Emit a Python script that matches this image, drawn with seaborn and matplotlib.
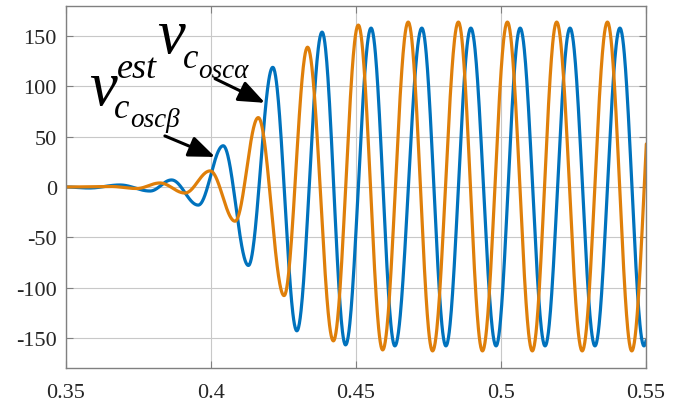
import numpy as np
import pandas as pd
import matplotlib
matplotlib.use("Agg")
import matplotlib.pyplot as plt
import seaborn as sns

# Extrema (time [s], value)
alpha_t = [0.350, 0.358, 0.3686, 0.3790, 0.3864, 0.3956, 0.4042, 0.4129, 0.4213, 0.4296,
           0.4383, 0.4464, 0.4552, 0.4634, 0.4727, 0.4810, 0.4896, 0.4983, 0.5066, 0.5152,
           0.5238, 0.5324, 0.5410, 0.5493, 0.5580]
alpha_v = [0, -1, 2, -4, 7, -18, 41, -78, 119, -143,
           154, -157, 158, -158, 158, -158, 158, -158, 158, -158,
           158, -158, 158, -158, 158]
beta_t = [0.350, 0.3655, 0.3744, 0.3824, 0.3910, 0.3997, 0.4083, 0.4163, 0.4252, 0.4333,
          0.4422, 0.4508, 0.4592, 0.4680, 0.4764, 0.4853, 0.4936, 0.5022, 0.5108, 0.5192,
          0.5280, 0.5367, 0.5451, 0.5537]
beta_v = [0, 0.5, -1.5, 4, -6, 16, -34, 69, -108, 139,
          -153, 161, -162, 164, -163, 164, -163, 164, -163, 164,
          -163, 164, -163, 164]

x_ticks = [0.35, 0.4, 0.45, 0.5, 0.55]
x_labels = ["0.35", "0.4", "0.45", "0.5", "0.55"]
y_ticks = [-150, -100, -50, 0, 50, 100, 150]
y_labels = ["-150", "-100", "-50", "0", "50", "100", "150"]


def wave(ts, vs, n=60):
    """Smooth half-cosine segments between successive read extrema."""
    xs, ys = [], []
    for i in range(len(ts) - 1):
        s = np.linspace(0, 1, n, endpoint=False)
        xs.append(ts[i] + (ts[i + 1] - ts[i]) * s)
        ys.append(vs[i] + (vs[i + 1] - vs[i]) * (1 - np.cos(np.pi * s)) / 2)
    xs.append([ts[-1]]); ys.append([vs[-1]])
    return np.concatenate(xs), np.concatenate(ys)


ta, va = wave(alpha_t, alpha_v)
tb, vb = wave(beta_t, beta_v)
df_a = pd.DataFrame({"t": ta, "v": va})
df_b = pd.DataFrame({"t": tb, "v": vb})

sns.set_theme(style="white")
plt.rcParams["font.family"] = ["Liberation Serif", "DejaVu Serif"]

fig = plt.figure(figsize=(6.91, 4.02), dpi=100)
ax = fig.add_axes([66 / 691, 1 - 369 / 402, 580 / 691, 362 / 402])

blue = "#0072BD"
orange = "#DF7F0A"
sns.lineplot(data=df_a, x="t", y="v", ax=ax, color=blue, lw=2.3, sort=False, estimator=None)
sns.lineplot(data=df_b, x="t", y="v", ax=ax, color=orange, lw=2.3, sort=False, estimator=None)

ax.set_xlim(0.35, 0.55)
ax.set_ylim(-180, 180)
ax.set_xticks(x_ticks)
ax.set_xticklabels(x_labels)
ax.set_yticks(y_ticks)
ax.set_yticklabels(y_labels)
ax.set_xlabel("")
ax.set_ylabel("")
ax.grid(True, color="#c8c8c8", lw=0.8)
ax.set_axisbelow(True)
for s in ax.spines.values():
    s.set_color("#808080")
    s.set_linewidth(1.0)
ax.tick_params(axis="both", which="both", direction="in", length=5, width=0.8,
               color="#808080", labelsize=16, labelcolor="#262626",
               top=True, right=True, left=True, bottom=True)
ax.tick_params(axis="x", pad=11)
ax.tick_params(axis="y", pad=6.5)


def ftext(x, y, s, size):
    fig.text(x / 691, 1 - y / 402, s, fontsize=size, style="italic",
             family=["Liberation Serif", "DejaVu Serif"], ha="left", va="baseline",
             color="black")


# beta label
ftext(89, 105, "v", 45)
ftext(117, 78, "est", 26)
ftext(114, 118, "c", 25)
ftext(130, 127, "oscβ", 19.5)
# alpha label
ftext(157, 53, "v", 45)
ftext(183, 68, "c", 25)
ftext(198, 78, "oscα", 19.5)

arrow_kw = dict(arrowstyle="-|>,head_length=0.8,head_width=0.32", color="black",
                lw=2.2, mutation_scale=20, shrinkA=0, shrinkB=0)
ax.annotate("", xy=(0.4186, 83.7), xytext=(0.4014, 107.7), arrowprops=arrow_kw)
ax.annotate("", xy=(0.4014, 29.9), xytext=(0.3841, 50.8), arrowprops=arrow_kw)

fig.savefig("out.png", dpi=100)
